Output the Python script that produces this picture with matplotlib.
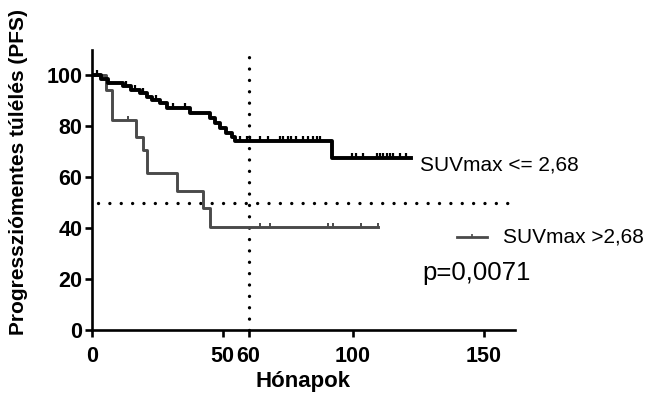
import matplotlib
matplotlib.use("Agg")
import matplotlib.pyplot as plt
from matplotlib.path import Path

plt.rcParams["font.family"] = ["Liberation Sans", "DejaVu Sans"]

# Kaplan-Meier steps (months, % PFS)
low_t = [0, 3.6, 6.0, 11.9, 15.0, 18.5, 21.0, 23.0, 26.0, 28.7, 37.5, 45.2,
         47.1, 49.0, 51.5, 53.5, 54.7, 91.8, 122.3]
low_s = [100, 98.7, 97.0, 95.7, 94.4, 93.0, 91.7, 90.4, 89.3, 87.1, 85.2, 83.3,
         81.4, 79.5, 77.5, 76.0, 74.5, 67.7, 67.7]
low_cens = [2.0, 13.0, 16.5, 19.5, 24.5, 31.1, 35.6, 56.6, 59.2, 60.5, 64.3,
            67.5, 72.0, 73.2, 75.1, 76.4, 78.3, 80.9, 82.8, 84.7, 86.0, 87.3,
            99.4, 101.3, 103.8, 109.0, 110.2, 111.5, 112.8, 114.0, 115.3,
            117.9, 120.4]

high_t = [0, 5.5, 7.8, 17.0, 19.6, 21.0, 32.4, 42.6, 45.1, 109.6]
high_s = [100, 94.5, 82.4, 76.0, 70.6, 61.6, 54.7, 47.9, 40.7, 40.7]
high_cens = [13.8, 64.3, 68.1, 90.4, 92.3, 103.2, 109.6]

label_low = "SUVmax <= 2,68"
label_high = "SUVmax >2,68"
p_text = "p=0,0071"
x_ticks = [0, 50, 60, 100, 150]
y_ticks = [0, 20, 40, 60, 80, 100]


def surv_at(times, surv, t):
    val = surv[0]
    for tt, ss in zip(times, surv):
        if tt <= t:
            val = ss
    return val


# censor tick pointing upward from the curve
tick = Path([(0, 0), (0, 1)], [Path.MOVETO, Path.LINETO])

fig = plt.figure(figsize=(6.69, 3.99), dpi=100)
ax = fig.add_axes([0.1375, 0.1717, 0.6323, 0.7030])

dot = dict(color="black", lw=2.4, linestyle=(0, (0.01, 3.4)),
           dash_capstyle="round")
ax.plot([60, 60], [0, 110], clip_on=False, **dot)
ax.plot([2.3, 161], [50, 50], clip_on=False, **dot)

gray = "#4a4a4a"
ax.step(high_t, high_s, where="post", color=gray, lw=2.1)
ax.plot(high_cens, [surv_at(high_t, high_s, t) for t in high_cens],
        linestyle="none", marker=tick, ms=6, mew=1.4, color=gray)

ax.step(low_t, low_s, where="post", color="black", lw=2.8)
ax.plot(low_cens, [surv_at(low_t, low_s, t) for t in low_cens],
        linestyle="none", marker=tick, ms=6.5, mew=1.6, color="black")

# labels next to the curves
ax.text(125.5, 65, label_low, fontsize=15, va="center", ha="left",
        clip_on=False)
ax.plot([139.7, 151.2], [36.5, 36.5], color=gray, lw=2, clip_on=False)
ax.plot([145.5], [36.5], marker=tick, ms=5, mew=1.2, color=gray,
        clip_on=False)
ax.text(157.3, 36.5, label_high, fontsize=15, va="center", ha="left",
        clip_on=False)
ax.text(126.7, 22.5, p_text, fontsize=18.5, va="center", ha="left",
        clip_on=False)

ax.set_xlim(0, 162)
ax.set_ylim(0, 110)
ax.set_xticks(x_ticks)
ax.set_yticks(y_ticks)
for side in ["top", "right"]:
    ax.spines[side].set_visible(False)
for side in ["left", "bottom"]:
    ax.spines[side].set_linewidth(1.9)
ax.tick_params(direction="out", length=5, width=1.9, pad=2, labelsize=15.5)
ax.tick_params(axis="x", pad=6)
for lab in ax.get_xticklabels() + ax.get_yticklabels():
    lab.set_fontweight("bold")

ax.set_xlabel("Hónapok", fontsize=16, fontweight="bold", labelpad=3)
ax.set_ylabel("Progressziómentes túlélés (PFS)", fontsize=15,
              fontweight="bold")
ax.yaxis.set_label_coords(-0.151, 0.565)

fig.savefig("out.png", dpi=100)
